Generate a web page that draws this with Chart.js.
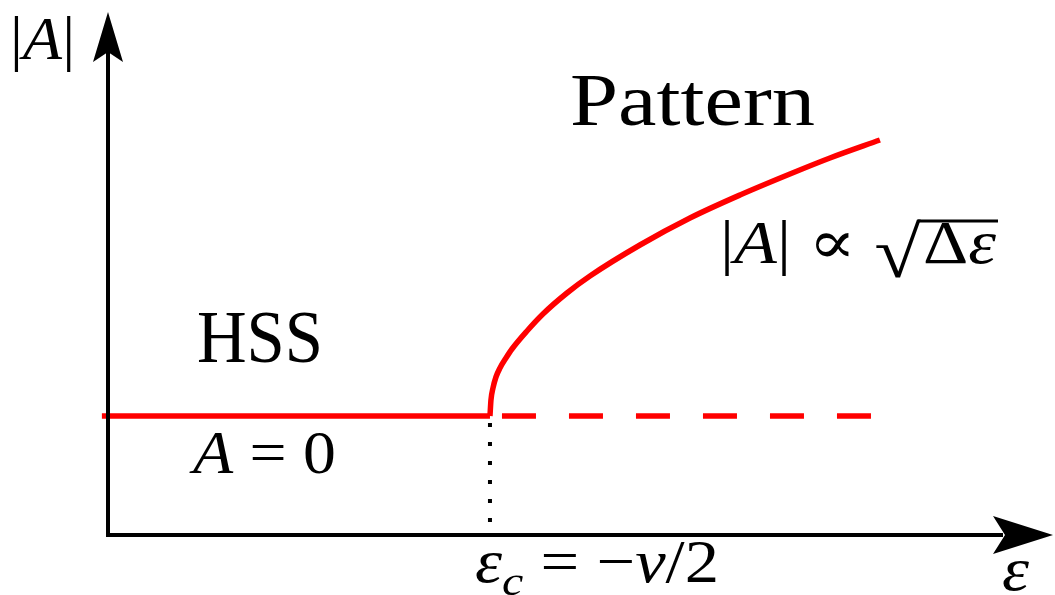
<!DOCTYPE html>
<html>
<head>
<meta charset="utf-8">
<script src="https://cdn.jsdelivr.net/npm/chart.js@4"></script>
<style>
  html, body { margin: 0; padding: 0; background: #fff; }
  #wrap { width: 1055px; height: 595px; position: relative; }
</style>
</head>
<body>
<div id="wrap"><canvas id="bif"></canvas></div>
<script>
// ---- bifurcation diagram: |A| vs epsilon ----
var RED = '#FF0000', INK = '#000000';
var SERIF = "'Liberation Serif', 'DejaVu Serif', serif";

// epsilon axis / amplitude axis limits (axis origin and arrow tips)
var epsMin = -1.5, epsMax = 0.974;
var ampMin = -1.19, ampMax = 4.04;
var epsCrit = -0.5;

// homogeneous steady state A = 0 (stable branch, then unstable)
var epsStable = [-1.516, -0.5];
var epsUnstable = [-0.5, 0.5];

// pattern branch
var epsPattern = [-0.5, -0.4974, -0.4921, -0.4843, -0.4738, -0.4581, -0.4424, -0.4031, -0.3613, -0.2984, -0.2382, -0.1073, 0.0236, 0.1545, 0.2853, 0.3901, 0.5209];
var ampPattern = [0, 0.16, 0.28, 0.39, 0.48, 0.58, 0.67, 0.85, 1.02, 1.23, 1.40, 1.71, 1.98, 2.21, 2.42, 2.58, 2.76];

function pts(xs, ys) {
  return xs.map(function(x, i) { return { x: x, y: ys[i] }; });
}

function pieceFont(style, size) {
  var s = style === 'sub' ? size * 0.7 : size;
  return (style === 'r' ? '' : 'italic ') + s + 'px ' + SERIF;
}

// math run [text, 'r' | 'i' | 'sub'] squeezed/stretched to a given width
function mathRun(ctx, parts, x, y, size, width) {
  var total = 0;
  parts.forEach(function(p) { ctx.font = pieceFont(p[1], size); total += ctx.measureText(p[0]).width; });
  ctx.save();
  ctx.translate(x, y);
  ctx.scale(width / total, 1);
  var cx = 0;
  parts.forEach(function(p) {
    ctx.font = pieceFont(p[1], size);
    ctx.fillText(p[0], cx, p[1] === 'sub' ? size * 0.22 : 0);
    cx += ctx.measureText(p[0]).width;
  });
  ctx.restore();
}

// glyph fitted into a box (used for the radical sign)
function glyphBox(ctx, ch, left, top, right, bottom) {
  ctx.font = '100px ' + SERIF;
  var m = ctx.measureText(ch);
  var gw = m.actualBoundingBoxLeft + m.actualBoundingBoxRight;
  var gh = m.actualBoundingBoxAscent + m.actualBoundingBoxDescent;
  ctx.save();
  ctx.translate(left, top);
  ctx.scale((right - left) / gw, (bottom - top) / gh);
  ctx.fillText(ch, m.actualBoundingBoxLeft, m.actualBoundingBoxAscent);
  ctx.restore();
}

function arrowHead(ctx, tipX, tipY, dirX, dirY, len, half, notch) {
  var nx = -dirY, ny = dirX;
  var bx = tipX - dirX * len, by = tipY - dirY * len;
  ctx.beginPath();
  ctx.moveTo(tipX, tipY);
  ctx.lineTo(bx + nx * half, by + ny * half);
  ctx.lineTo(tipX - dirX * (len - notch), tipY - dirY * (len - notch));
  ctx.lineTo(bx - nx * half, by - ny * half);
  ctx.closePath();
  ctx.fill();
}

var axesAndText = {
  id: 'axesAndText',
  afterDatasetsDraw: function(chart) {
    var ctx = chart.ctx, a = chart.chartArea;
    ctx.save();
    ctx.strokeStyle = INK; ctx.fillStyle = INK; ctx.lineWidth = 4;
    // axes
    ctx.beginPath();
    ctx.moveTo(a.left, a.bottom + 2); ctx.lineTo(a.left, a.top + 40);
    ctx.moveTo(a.left - 2, a.bottom); ctx.lineTo(a.right - 50, a.bottom);
    ctx.stroke();
    arrowHead(ctx, a.left, a.top, 0, -1, 50, 15, 10);
    arrowHead(ctx, a.right, a.bottom, 1, 0, 60, 19, 12);

    // region names
    ctx.textBaseline = 'alphabetic'; ctx.textAlign = 'left';
    mathRun(ctx, [['Pattern', 'r']], 570, 125, 75, 245);
    mathRun(ctx, [['HSS', 'r']], 197, 362, 75, 126);

    // math labels
    var m = 61;
    mathRun(ctx, [['|', 'r'], ['A', 'i'], ['|', 'r']], 10, 59, m, 65);
    mathRun(ctx, [['A', 'i'], [' = 0', 'r']], 193, 473, m, 143);
    mathRun(ctx, [['ε', 'i'], ['c', 'sub'], [' = −', 'r'], ['ν', 'i'], ['/2', 'r']], 475, 582, m, 244);
    mathRun(ctx, [['ε', 'i']], 1002, 590, m, 27);

    mathRun(ctx, [['|', 'r'], ['A', 'i'], ['|', 'r'], [' ∝', 'r']], 720, 263, m, 136);
    glyphBox(ctx, '√', 876, 219, 921, 278);
    mathRun(ctx, [['Δ', 'r'], ['ε', 'i']], 923, 263, m, 73);
    ctx.lineWidth = 3;
    ctx.beginPath(); ctx.moveTo(918, 221); ctx.lineTo(998, 221); ctx.stroke();
    ctx.restore();
  }
};

new Chart(document.getElementById('bif').getContext('2d'), {
  type: 'scatter',
  data: {
    datasets: [
      { data: pts(epsStable, [0, 0]), showLine: true, borderColor: RED, borderWidth: 5.5, pointRadius: 0, clip: false },
      { data: pts(epsUnstable, [0, 0]), showLine: true, borderColor: RED, borderWidth: 5.5, pointRadius: 0, borderDash: [34, 33], borderDashOffset: 55, clip: false },
      { data: pts(epsPattern, ampPattern), showLine: true, borderColor: RED, borderWidth: 5.5, pointRadius: 0, cubicInterpolationMode: 'monotone', clip: false },
      { data: pts([epsCrit, epsCrit], [0, ampMin]), showLine: true, borderColor: INK, borderWidth: 4, pointRadius: 0, borderDash: [4, 15], borderDashOffset: 12, clip: false }
    ]
  },
  options: {
    responsive: true, maintainAspectRatio: false, animation: false,
    layout: { padding: { left: 108, right: 2, top: 12, bottom: 60 } },
    scales: {
      x: { type: 'linear', display: false, min: epsMin, max: epsMax },
      y: { type: 'linear', display: false, min: ampMin, max: ampMax }
    },
    plugins: { legend: { display: false }, tooltip: { enabled: false } }
  },
  plugins: [axesAndText]
});
</script>
</body>
</html>
